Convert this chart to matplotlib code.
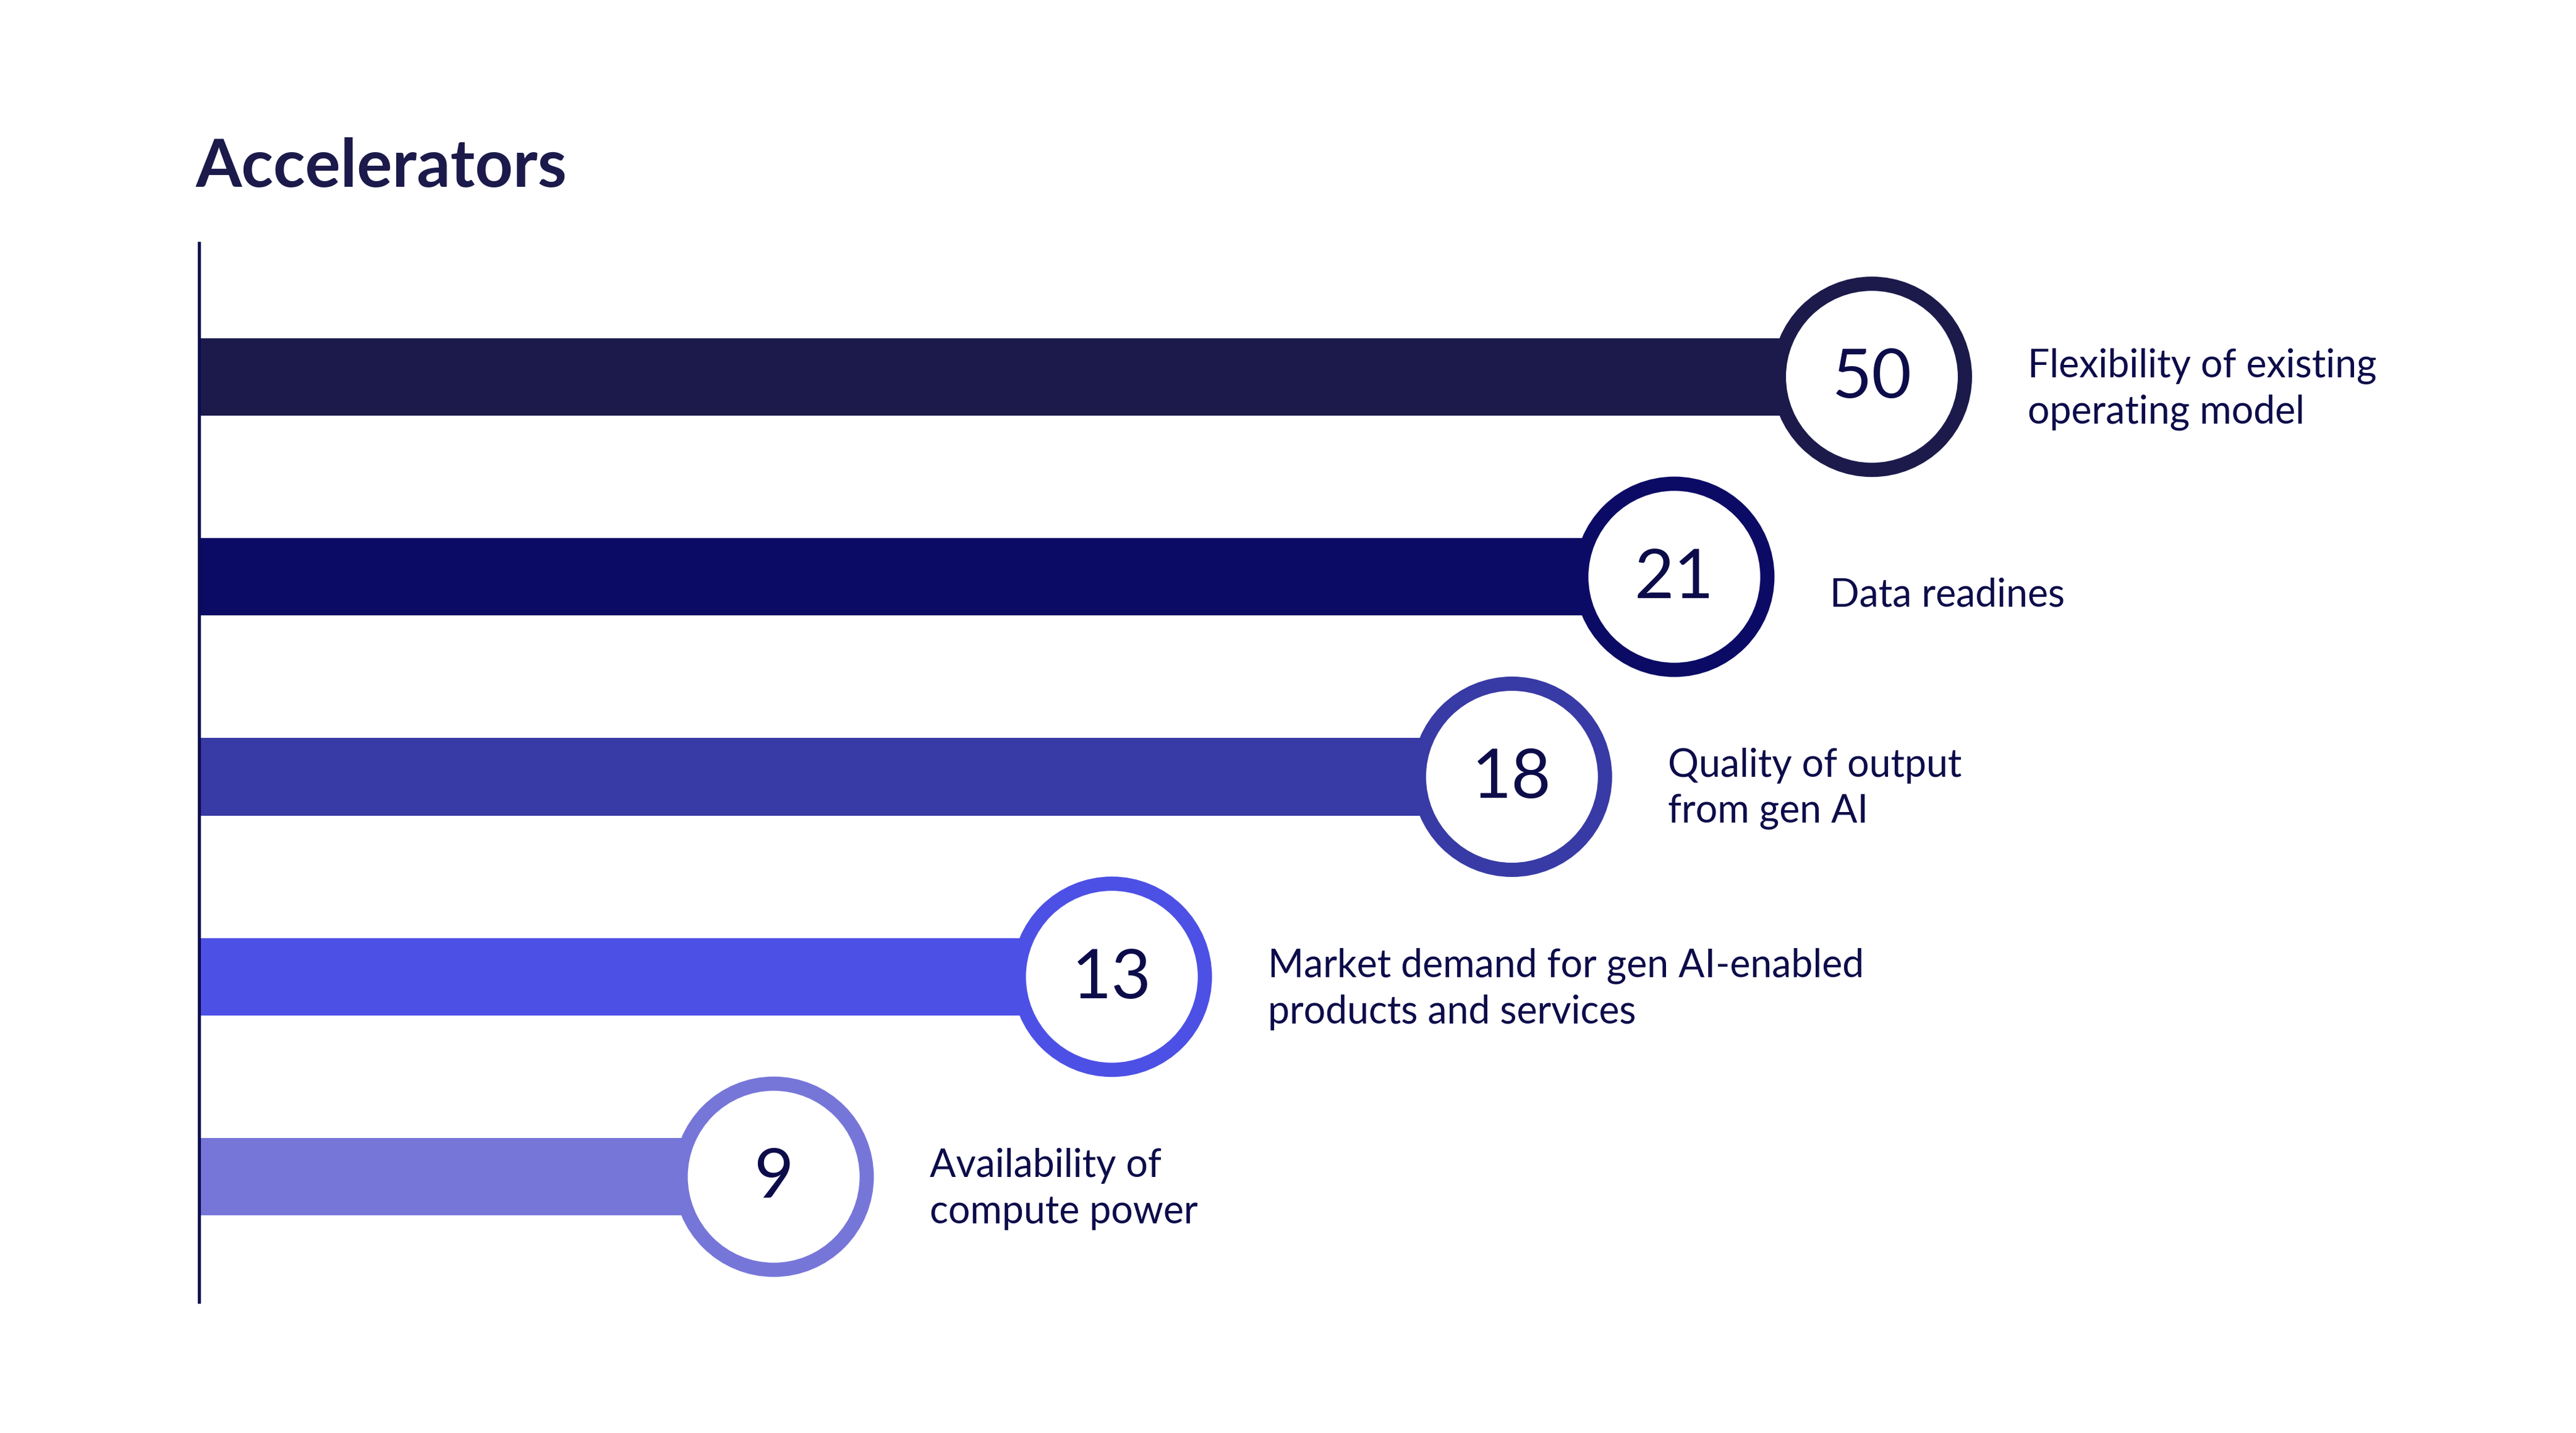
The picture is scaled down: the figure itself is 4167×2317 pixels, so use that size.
import numpy as np
import matplotlib
matplotlib.use("Agg")
import matplotlib.pyplot as plt


# data
labels = [
    "Flexibility of existing\noperating model",
    "Data readines",
    "Quality of output\nfrom gen AI",
    "Market demand for gen AI-enabled\nproducts and services",
    "Availability of\ncompute power",
]
values = [50, 21, 18, 13, 9]
colors = ["#1B1A4B", "#0B0B66", "#383AA5", "#4D50E5", "#7676D9"]
title = "Accelerators"

# the designer's bars are not to linear scale; use a piecewise display scale
SCALE_VALUES = [0, 9, 13, 18, 21, 50]
SCALE_POS = [0, 0.344, 0.546, 0.785, 0.882, 1.0]

TEXT_COLOR = "#0D0C4A"
DPI = 100
W, H = 4167, 2317


def fwd(x):
    return np.interp(x, SCALE_VALUES, SCALE_POS)


def inv(x):
    return np.interp(x, SCALE_POS, SCALE_VALUES)


def px(p):
    # pixels -> points
    return p * 72 / DPI


def main():
    plt.rcParams["font.family"] = ["Lato", "DejaVu Sans"]

    fig = plt.figure(figsize=(W / DPI, H / DPI), dpi=DPI)
    fig.patch.set_facecolor("white")

    left, right = 320, 3028
    top, bottom = 391, 2108
    ax = fig.add_axes([left / W, 1 - bottom / H, (right - left) / W, (bottom - top) / H])
    ax.set_xscale("function", functions=(fwd, inv))
    ax.set_xlim(0, 50)
    ax.set_ylim(len(values) - 1 + 0.635, -0.675)
    ax.axis("off")
    ax.set_facecolor("none")

    rows = np.arange(len(values))

    # vertical base line
    ax.axvline(0, color="#0B0B4F", lw=px(10), zorder=4)

    ax.barh(rows, values, height=0.387, color=colors, zorder=2)

    ring = px(23)
    diam = px(2 * 162) - ring
    ax.scatter(values, rows, s=diam ** 2, facecolor="white", edgecolor=colors,
               linewidths=ring, zorder=3, clip_on=False)

    for r, v, lab in zip(rows, values, labels):
        ax.text(v, r + 0.01, str(v), ha="center", va="center", fontsize=80,
                color=TEXT_COLOR, zorder=5)
        off = -30 if "\n" not in lab else -20
        ax.annotate(lab, (v, r), xytext=(px(252), px(off)), textcoords="offset points",
                    ha="left", va="center", fontsize=45, color=TEXT_COLOR,
                    linespacing=1.35, annotation_clip=False)

    fig.text(317 / W, 1 - 302 / H, title, ha="left", va="baseline", fontsize=77,
             fontweight="bold", color="#1B1A4B")

    fig.savefig("out.png", dpi=DPI, facecolor="white")


if __name__ == '__main__':
    main()
